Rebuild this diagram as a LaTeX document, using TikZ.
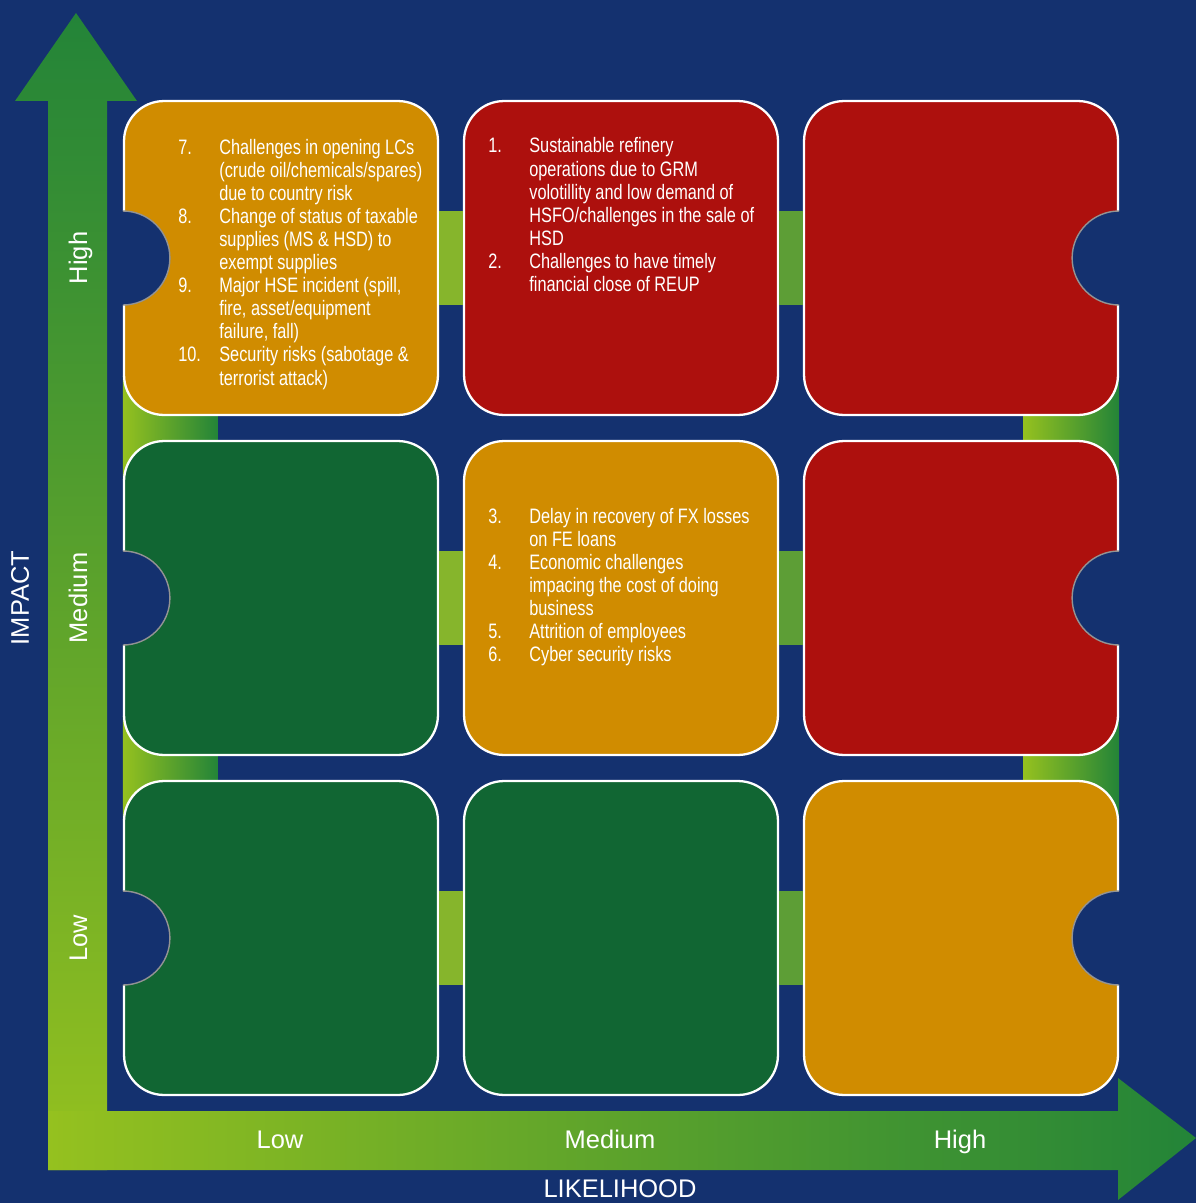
\documentclass[tikz,border=0pt]{standalone}
\usepackage{fontspec}
\setmainfont{Liberation Sans}
\newfontfamily\listfont[FakeStretch=0.78]{Liberation Sans}

\definecolor{navy}{RGB}{20,49,111}
\definecolor{amber}{RGB}{208,140,0}
\definecolor{riskred}{RGB}{173,16,13}
\definecolor{riskgreen}{RGB}{17,102,51}
\definecolor{arrowlight}{RGB}{149,193,31}
\definecolor{arrowdark}{RGB}{35,132,56}
\definecolor{linkA}{RGB}{134,181,44}
\definecolor{linkB}{RGB}{93,158,54}

\pgfdeclarelayer{backdrop}
\pgfdeclarelayer{links}
\pgfsetlayers{backdrop,links,main}

\tikzset{
  riskbox/.style={draw=white, line width=1.3pt, rounded corners=0.8cm,
    minimum width=6.28cm, minimum height=6.28cm, inner sep=0pt},
  hlink/.style={line width=1.88cm},
  vlink/.style={left color=arrowlight, right color=arrowdark},
  notch/.style={fill=navy},
  notchrim/.style={draw=gray!85, line width=0.8pt},
  axislabel/.style={text=white, inner sep=0pt, anchor=base,
    font=\fontsize{14.5}{17}\selectfont},
  risktext/.style={text=white, inner sep=0pt, anchor=base west,
    font=\listfont\fontsize{11.9}{13.15}\selectfont}
}

\begin{document}
\begin{tikzpicture}[x=0.02cm, y=-0.02cm]
        \begin{pgfonlayer}{backdrop}
            \fill[navy] (0,0) rectangle (1196,1203);
        \end{pgfonlayer}
        \useasboundingbox (0,0) rectangle (1196,1203);

        % axes
        \shade[top color=arrowdark, bottom color=arrowlight]
            (48,1170) -- (48,101) -- (15,101) -- (76,13) -- (137,101) -- (107,101) -- (107,1170) -- cycle;
        \shade[left color=arrowlight, right color=arrowdark]
            (48,1111) -- (1118,1111) -- (1118,1078) -- (1196,1138) -- (1118,1200) -- (1118,1170) -- (48,1170) -- cycle;

        % risk boxes: b-<impact>-<likelihood>
        \node[riskbox, fill=amber]     (b-h-l) at (281,258) {};
        \node[riskbox, fill=riskred]   (b-h-m) at (621,258) {};
        \node[riskbox, fill=riskred]   (b-h-h) at (961,258) {};
        \node[riskbox, fill=riskgreen] (b-m-l) at (281,598) {};
        \node[riskbox, fill=amber]     (b-m-m) at (621,598) {};
        \node[riskbox, fill=riskred]   (b-m-h) at (961,598) {};
        \node[riskbox, fill=riskgreen] (b-l-l) at (281,938) {};
        \node[riskbox, fill=riskgreen] (b-l-m) at (621,938) {};
        \node[riskbox, fill=amber]     (b-l-h) at (961,938) {};

        % links between columns
        \draw[hlink, linkA] (b-h-l) -- (b-h-m);
        \draw[hlink, linkB] (b-h-m) -- (b-h-h);
        \draw[hlink, linkA] (b-m-l) -- (b-m-m);
        \draw[hlink, linkB] (b-m-m) -- (b-m-h);
        \draw[hlink, linkA] (b-l-l) -- (b-l-m);
        \draw[hlink, linkB] (b-l-m) -- (b-l-h);

        % links between rows
        \begin{pgfonlayer}{links}
            \shade[vlink] ([yshift=0.8cm]b-h-l.south west) rectangle ([xshift=1.9cm,yshift=-0.8cm]b-m-l.north west);
            \shade[vlink] ([yshift=0.8cm]b-m-l.south west) rectangle ([xshift=1.9cm,yshift=-0.8cm]b-l-l.north west);
            \shade[vlink] ([xshift=-1.92cm,yshift=0.8cm]b-h-h.south east) rectangle ([yshift=-0.8cm]b-m-h.north east);
            \shade[vlink] ([xshift=-1.92cm,yshift=0.8cm]b-m-h.south east) rectangle ([yshift=-0.8cm]b-l-h.north east);
        \end{pgfonlayer}

        % notches
        \fill[notch] ([yshift=0.94cm]b-h-l.west) arc[start angle=-90, end angle=90, radius=47] -- ++(-3,0) -- ++(0,-94) -- cycle;
        \fill[notch] ([yshift=0.94cm]b-m-l.west) arc[start angle=-90, end angle=90, radius=47] -- ++(-3,0) -- ++(0,-94) -- cycle;
        \fill[notch] ([yshift=0.94cm]b-l-l.west) arc[start angle=-90, end angle=90, radius=47] -- ++(-3,0) -- ++(0,-94) -- cycle;
        \fill[notch] ([yshift=0.94cm]b-h-h.east) arc[start angle=-90, end angle=-270, radius=47] -- ++(3,0) -- ++(0,-94) -- cycle;
        \fill[notch] ([yshift=0.94cm]b-m-h.east) arc[start angle=-90, end angle=-270, radius=47] -- ++(3,0) -- ++(0,-94) -- cycle;
        \fill[notch] ([yshift=0.94cm]b-l-h.east) arc[start angle=-90, end angle=-270, radius=47] -- ++(3,0) -- ++(0,-94) -- cycle;
        \draw[notchrim] ([yshift=0.94cm]b-h-l.west) arc[start angle=-90, end angle=90, radius=47];
        \draw[notchrim] ([yshift=0.94cm]b-m-l.west) arc[start angle=-90, end angle=90, radius=47];
        \draw[notchrim] ([yshift=0.94cm]b-l-l.west) arc[start angle=-90, end angle=90, radius=47];
        \draw[notchrim] ([yshift=0.94cm]b-h-h.east) arc[start angle=-90, end angle=-270, radius=47];
        \draw[notchrim] ([yshift=0.94cm]b-m-h.east) arc[start angle=-90, end angle=-270, radius=47];
        \draw[notchrim] ([yshift=0.94cm]b-l-h.east) arc[start angle=-90, end angle=-270, radius=47];

        % risk lists
        \node[risktext] (t-h-l) at (178,154) {\begin{tabular}[t]{@{}p{0.82cm}@{}l@{}}
            7.  & Challenges in opening LCs\\
                & (crude oil/chemicals/spares)\\
                & due to country risk\\
            8.  & Change of status of taxable\\
                & supplies (MS \& HSD) to\\
                & exempt supplies\\
            9.  & Major HSE incident (spill,\\
                & fire, asset/equipment\\
                & failure, fall)\\
            10. & Security risks (sabotage \&\\
                & terrorist attack)
        \end{tabular}};
        \node[risktext] (t-h-m) at (488,153) {\begin{tabular}[t]{@{}p{0.82cm}@{}l@{}}
            1. & Sustainable refinery\\
               & operations due to GRM\\
               & volotillity and low demand of\\
               & HSFO/challenges in the sale of\\
               & HSD\\
            2. & Challenges to have timely\\
               & financial close of REUP
        \end{tabular}};
        \node[risktext] (t-m-m) at (488,523) {\begin{tabular}[t]{@{}p{0.82cm}@{}l@{}}
            3. & Delay in recovery of FX losses\\
               & on FE loans\\
            4. & Economic challenges\\
               & impacing the cost of doing\\
               & business\\
            5. & Attrition of employees\\
            6. & Cyber security risks
        \end{tabular}};

        % axis labels
        \node[axislabel, rotate=90] (imp-h) at (87,258) {High};
        \node[axislabel, rotate=90] (imp-m) at (87,598) {Medium};
        \node[axislabel, rotate=90] (imp-l) at (87,938) {Low};
        \node[axislabel, rotate=90] (imp) at (29,598) {IMPACT};
        \node[axislabel] (lik-l) at (280,1148) {Low};
        \node[axislabel] (lik-m) at (610,1148) {Medium};
        \node[axislabel] (lik-h) at (960,1148) {High};
        \node[axislabel] (lik) at (620,1197) {LIKELIHOOD};

    \end{tikzpicture}
\end{document}
